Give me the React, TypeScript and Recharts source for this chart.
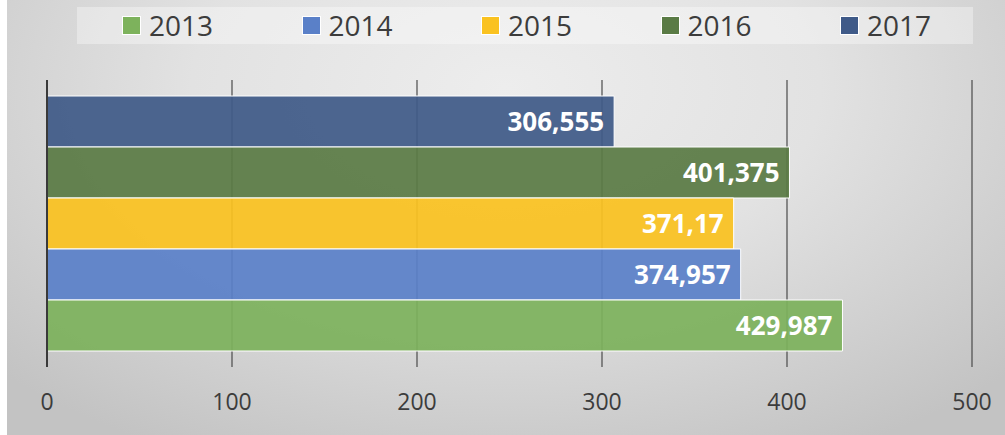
import { BarChart, Bar, XAxis, YAxis, CartesianGrid, Legend, LabelList } from "recharts"

// Series, drawn top-to-bottom in reverse year order like the original
const years = ["2013", "2014", "2015", "2016", "2017"]
const values = [429.987, 374.957, 371.17, 401.375, 306.555]
const colors = ["#7db25c", "#5a80c8", "#fac220", "#5a7b45", "#3f5a88"]
const xTicks = [0, 100, 200, 300, 400, 500]

const chartData = [
  years.reduce<Record<string, number | string>>(
    (row, year, i) => {
      row[year] = values[i]
      return row
    },
    { name: "" }
  ),
]

const FONT = "'Open Sans', 'Liberation Sans', sans-serif"

function AxisTick({ x, y, payload }: any) {
  return (
    <text x={x} y={y + 35} textAnchor="middle" fontSize={23} fill="#3c3c3c" fontFamily={FONT}>
      {payload.value}
    </text>
  )
}

function LegendContent() {
  return (
    <div
      style={{
        width: 896,
        height: 37,
        background: "rgba(255,255,255,0.35)",
        position: "relative",
        fontFamily: FONT,
      }}
    >
      {years.map((year, i) => (
        <div
          key={year}
          style={{
            position: "absolute",
            left: 45 + i * 179.5,
            top: 0,
            height: 37,
            display: "flex",
            alignItems: "center",
          }}
        >
          <span
            style={{
              width: 19,
              height: 19,
              background: colors[i],
              border: "1px solid #fff",
              boxSizing: "border-box",
              marginRight: 8,
              display: "inline-block",
            }}
          />
          <span style={{ fontSize: 28, color: "#3c3c3c", lineHeight: "37px" }}>{year}</span>
        </div>
      ))}
    </div>
  )
}

export default function App() {
  const order = years.map((_, i) => i).reverse()
  return (
    <div style={{ position: "absolute", left: 0, top: 0, width: 1005, height: 435, background: "#fff" }}>
      <div
        style={{
          position: "absolute",
          left: 7,
          top: 0,
          width: 998,
          height: 435,
          background:
            "radial-gradient(ellipse 70% 95% at 50% 20%, #ededed 0%, #e2e2e2 45%, #c3c3c3 100%)",
        }}
      />
      <div style={{ position: "absolute", left: 0, top: 0 }}>
        <BarChart
          width={1005}
          height={435}
          data={chartData}
          layout="vertical"
          margin={{ top: 43, right: 33, left: 47, bottom: 18 }}
          barGap={0}
          barCategoryGap={16}
        >
          <CartesianGrid horizontal={false} stroke="#4a4a4a" strokeWidth={1.2} />
          <XAxis
            type="number"
            domain={[0, 500]}
            ticks={xTicks}
            axisLine={false}
            tickLine={false}
            tick={<AxisTick />}
            height={50}
            interval={0}
          />
          <YAxis type="category" dataKey="name" hide width={0} />
          <Legend
            verticalAlign="top"
            content={<LegendContent />}
            wrapperStyle={{ top: 7, left: 77, width: 896, height: 37 }}
          />
          {order.map((i) => (
            <Bar
              key={years[i]}
              dataKey={years[i]}
              fill={colors[i]}
              fillOpacity={0.93}
              stroke="#ffffff"
              strokeWidth={1}
              isAnimationActive={false}
            >
              <LabelList
                dataKey={years[i]}
                position="insideRight"
                offset={10}
                fill="#ffffff"
                fontSize={26}
                fontWeight="bold"
                fontFamily={FONT}
                formatter={(v: any) => String(v).replace(".", ",")}
              />
            </Bar>
          ))}
          <CartesianGrid horizontal={false} vertical={false} />
        </BarChart>
      </div>
      <div
        style={{ position: "absolute", left: 45.5, top: 80, width: 2.5, height: 287, background: "#3a3a3a" }}
      />
    </div>
  )
}
